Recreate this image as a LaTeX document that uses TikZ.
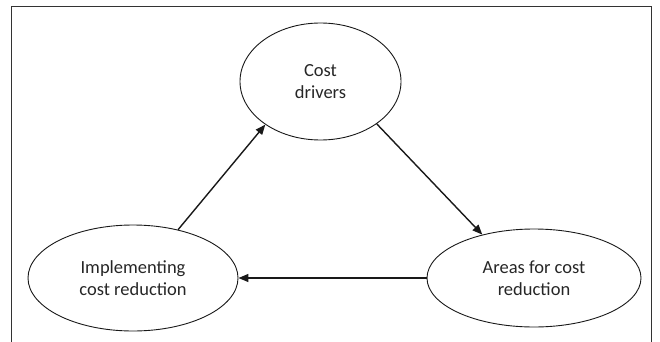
\documentclass[tikz,border=0pt]{standalone}
\usepackage{fontspec}
\setmainfont{Carlito}
\usetikzlibrary{shapes.geometric,arrows.meta}
\begin{document}
\begin{tikzpicture}[x=1pt,y=-1pt,
  bubble/.style={draw=black!90,line width=0.9pt,ellipse,inner sep=0pt,align=center,
    font=\fontsize{18.5}{22}\selectfont,text=black!85},
  flow/.style={draw=black!90,line width=1.4pt,-{Triangle[length=10pt,width=8pt]}},
  frame/.style={draw=black!80,line width=0.9pt}]
\useasboundingbox (0,0) rectangle (660,342);
\draw[frame] (11.5,342) -- (11.5,6.5) -- (651.5,6.5) -- (651.5,342);
\node[bubble,minimum width=161pt,minimum height=117pt] (T) at (320.5,81.5) {Cost\\drivers};
\node[bubble,minimum width=210pt,minimum height=106pt] (L) at (133,278) {Implementing\\cost reduction};
\node[bubble,minimum width=214pt,minimum height=98pt] (R) at (534,278) {Areas for cost\\reduction};
\draw[flow] (L.47) -- (T.218);
\draw[flow] (T.323.5) -- (R.140);
\draw[flow] (R.west) -- (L.east);
\end{tikzpicture}
\end{document}
